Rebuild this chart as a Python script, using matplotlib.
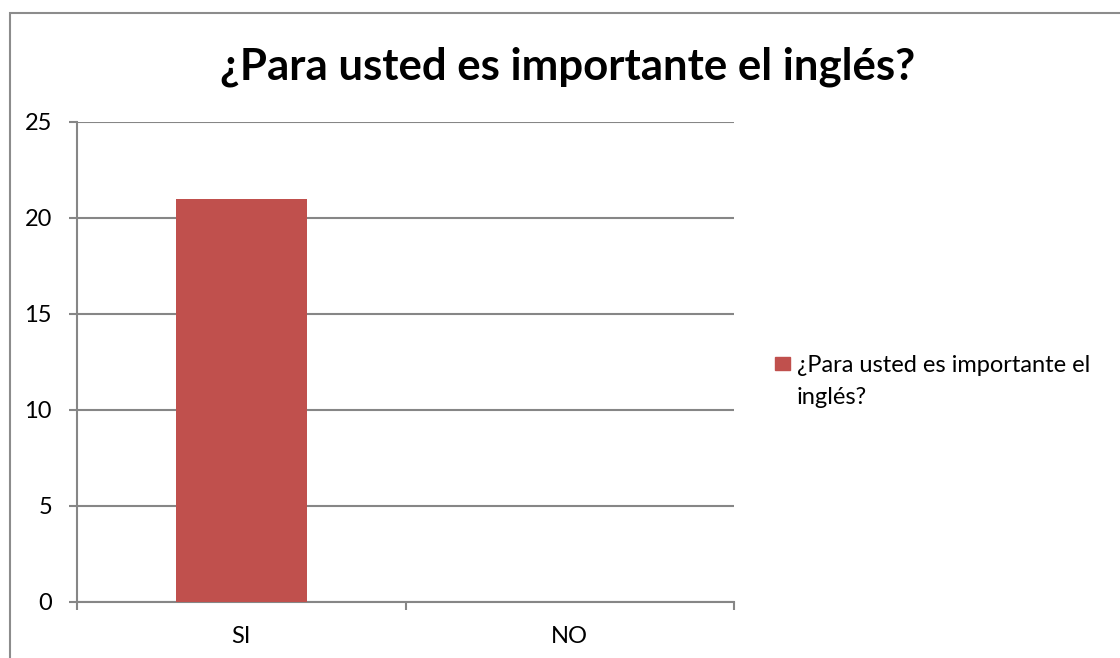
import matplotlib.pyplot as plt
from matplotlib.patches import Rectangle
import numpy as np

# data
categories = ["SI", "NO"]
values = [21, 0]
series_name = "¿Para usted es importante el inglés?"
legend_lines = ["¿Para usted es importante el", "inglés?"]
y_ticks = [0, 5, 10, 15, 20, 25]

BAR_COLOR = "#C0504D"
GRID_COLOR = "#868686"
FONT = ["Lato", "DejaVu Sans"]

plt.rcParams["font.family"] = FONT

W, H = 1120, 658
fig = plt.figure(figsize=(W / 100, H / 100), dpi=100)
ax = fig.add_axes([77 / W, 1 - 602 / H, 657 / W, 480 / H])

# chart frame (only left and top visible in the reference)
fig.patches.append(Rectangle((10 / W, -0.1), 1.2, 1 - 13 / H + 0.1,
                             transform=fig.transFigure, fill=False,
                             edgecolor="#8c8c8c", linewidth=1.5))

x_pos = np.arange(len(categories))
ax.bar(x_pos, values, 0.40, color=BAR_COLOR, zorder=3)

ax.set_xlim(-0.5, len(categories) - 0.5)
ax.set_ylim(0, 25)
ax.set_yticks(y_ticks)
ax.set_xticks(x_pos)
ax.set_xticklabels(categories)
ax.set_xticks([-0.5, 0.5, 1.5], minor=True)
ax.tick_params(axis="x", which="major", length=0, labelsize=17, pad=17)
ax.tick_params(axis="x", which="minor", length=6, width=1.5, color=GRID_COLOR)
ax.tick_params(axis="y", length=6, width=1.5, color=GRID_COLOR,
               labelsize=17, pad=12)

ax.grid(True, axis="y", color=GRID_COLOR, linewidth=1.5, zorder=0)
for side in ["top", "right"]:
    ax.spines[side].set_visible(False)
for side in ["left", "bottom"]:
    ax.spines[side].set_color(GRID_COLOR)
    ax.spines[side].set_linewidth(1.5)

fig.text(568 / W, 1 - 67 / H, series_name, ha="center", va="center",
         fontsize=31.5, fontweight="bold")

# legend: key square aligned with the first line of a wrapped label
fig.patches.append(Rectangle((775 / W, 1 - 370 / H), 15 / W, 13 / H,
                             transform=fig.transFigure, color=BAR_COLOR))
for i, line in enumerate(legend_lines):
    fig.text(797 / W, 1 - (363 + 32 * i) / H, line, ha="left",
             va="center_baseline", fontsize=17)

fig.savefig("out.png", dpi=100)
